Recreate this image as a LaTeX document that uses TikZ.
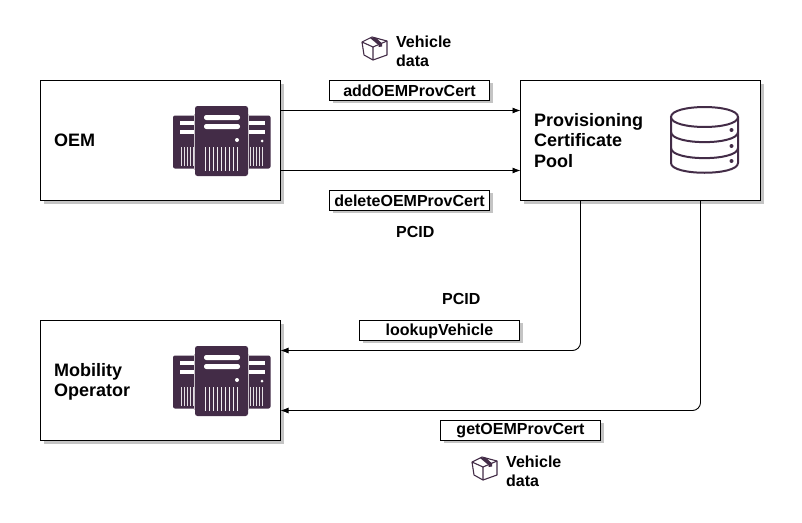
\documentclass[tikz,border=0pt]{standalone}
\usepackage{fontspec}
\setmainfont{Liberation Sans}
\usetikzlibrary{shadows,arrows.meta,calc}
\definecolor{icon}{HTML}{432C47}
\definecolor{shade}{HTML}{C4C4C4}
\tikzset{
  x=1pt,y=-1pt,line width=1pt,
  sh/.style={drop shadow={shadow xshift=3pt,shadow yshift=-3pt,fill=shade,opacity=1}},
  mainbox/.style={draw=black,fill=white,sh,minimum width=240pt,minimum height=120pt,inner sep=0pt,outer sep=0pt},
  labelbox/.style={draw=black,fill=white,sh,minimum width=160pt,minimum height=20pt,inner sep=0pt,outer sep=0pt},
  labeltext/.style={inner sep=0pt,font=\fontsize{16}{18}\selectfont\bfseries},
  boxtitle/.style={anchor=west,align=left,inner sep=0pt,font=\fontsize{18}{20.5}\selectfont\bfseries},
  small/.style={anchor=west,align=left,inner sep=0pt,font=\fontsize{16}{19}\selectfont\bfseries},
  conn/.style={draw=black,line width=0.9pt,-{Latex[length=8pt,width=6pt]},rounded corners=8pt},
  server/.pic={
    \fill[icon,rounded corners=2pt] (-22,9.5) rectangle (75.5,62.5);
    \fill[icon,rounded corners=2.5pt] (0,0) rectangle (53,70);
    \draw[white!70!icon,line width=0.6pt] (-0.4,8) -- (-0.4,63.5) (53.4,8) -- (53.4,63.5);
    \fill[white,rounded corners=2.3pt] (9,9) rectangle (45,14);
    \fill[white,rounded corners=2.3pt] (9,18) rectangle (45,23);
    \fill[white] (42,34) circle (2);
    \foreach \i in {0,...,8} \fill[white!92!icon] ({10.5+\i*4-0.6},40.5) rectangle ({10.5+\i*4+0.6},64.5);
    \fill[white] (-15,15) rectangle (-1,19);
    \fill[white] (-15,24) rectangle (-1,28);
    \foreach \i in {0,...,4} \fill[white!85!icon] ({-14+\i*3-0.5},41) rectangle ({-14+\i*3+0.5},59.5);
    \fill[white] (54,15) rectangle (70,19);
    \fill[white] (54,24) rectangle (70,28);
    \fill[white] (67,35) circle (1.5);
    \foreach \i in {0,...,4} \fill[white!85!icon] ({55.5+\i*3-0.5},41) rectangle ({55.5+\i*3+0.5},59.5);
  },
  dbicon/.pic={
    \draw[icon,line width=2pt,line join=round] (-33.5,0) -- (-33.5,46)
      .. controls (-33.5,59) and (33.5,59) .. (33.5,46) -- (33.5,0);
    \draw[icon,line width=2pt] (-33.5,15) .. controls (-33.5,28.5) and (33.5,28.5) .. (33.5,15);
    \draw[icon,line width=2pt] (-33.5,31) .. controls (-33.5,44.5) and (33.5,44.5) .. (33.5,31);
    \draw[icon,line width=2pt,fill=white] (-33.5,0) .. controls (-33.5,13.3) and (33.5,13.3) .. (33.5,0)
      .. controls (33.5,-13.3) and (-33.5,-13.3) .. (-33.5,0) -- cycle;
    \fill[icon] (27,13) circle (2) (27,29) circle (2) (27,44) circle (2);
  },
  pkg/.pic={
    \draw[icon,line width=1.1pt,line join=round] (0,5) -- (10,0) -- (25,4) -- (25,18) -- (11,23) -- (2,18) -- cycle;
    \draw[icon,line width=1.1pt,line join=round] (0,5) -- (11,10) -- (25,4) (11,10) -- (11,23);
    \fill[icon] (8,1) -- (14,0.8) -- (20,6.4) -- (20,9.5) -- (16.5,10) -- (16.5,8) -- cycle;
  }
}
\begin{document}
\begin{tikzpicture}
\useasboundingbox (0,0) rectangle (802,522);
\fill[white] (0,0) rectangle (802,522);
\node[mainbox] (oem) at (160.5,140.5) {};
\node[mainbox] (pool) at (640.5,140.5) {};
\node[mainbox] (mo) at (160.5,380.5) {};
\node[boxtitle] (oemt) at (54,140.5) {OEM};
\node[boxtitle] (poolt) at (534,140.5) {Provisioning\\Certificate\\Pool};
\node[boxtitle] (mot) at (54,382) {Mobility\\Operator};
\pic at (195,106) {server};
\pic at (195,346) {server};
\pic at (704.5,117) {dbicon};
\node[labelbox] (add) at (409.5,90) {};
\node[labelbox] (del) at (409.5,200) {};
\node[labelbox] (look) at (439.5,330) {};
\node[labelbox] (get) at (520.5,430) {};
\node[labeltext] (addt) at (409.5,91) {addOEMProvCert};
\node[labeltext] (delt) at (409.5,201) {deleteOEMProvCert};
\node[labeltext] (lookt) at (439.5,331) {lookupVehicle};
\node[labeltext] (gett) at (520.5,431) {getOEMProvCert};
\pic at (362,37) {pkg};
\pic at (472,457) {pkg};
\node[small] (v1) at (396,51) {Vehicle\\data};
\node[small] (v2) at (506,471) {Vehicle\\data};
\node[small] (p1) at (396,232) {PCID};
\node[small] (p2) at (442,298.5) {PCID};
\coordinate (oa) at ($(oem.north east)!0.25!(oem.south east)$);
\coordinate (ob) at ($(oem.north east)!0.75!(oem.south east)$);
\coordinate (pa) at ($(pool.north west)!0.25!(pool.south west)$);
\coordinate (pb) at ($(pool.north west)!0.75!(pool.south west)$);
\coordinate (sa) at ($(pool.south west)!0.25!(pool.south east)$);
\coordinate (sb) at ($(pool.south west)!0.75!(pool.south east)$);
\coordinate (ma) at ($(mo.north east)!0.25!(mo.south east)$);
\coordinate (mb) at ($(mo.north east)!0.75!(mo.south east)$);
\draw[conn] (oa) -- (pa);
\draw[conn] (ob) -- (pb);
\draw[conn] (sa) |- (ma);
\draw[conn] (sb) |- (mb);
\end{tikzpicture}
\end{document}
